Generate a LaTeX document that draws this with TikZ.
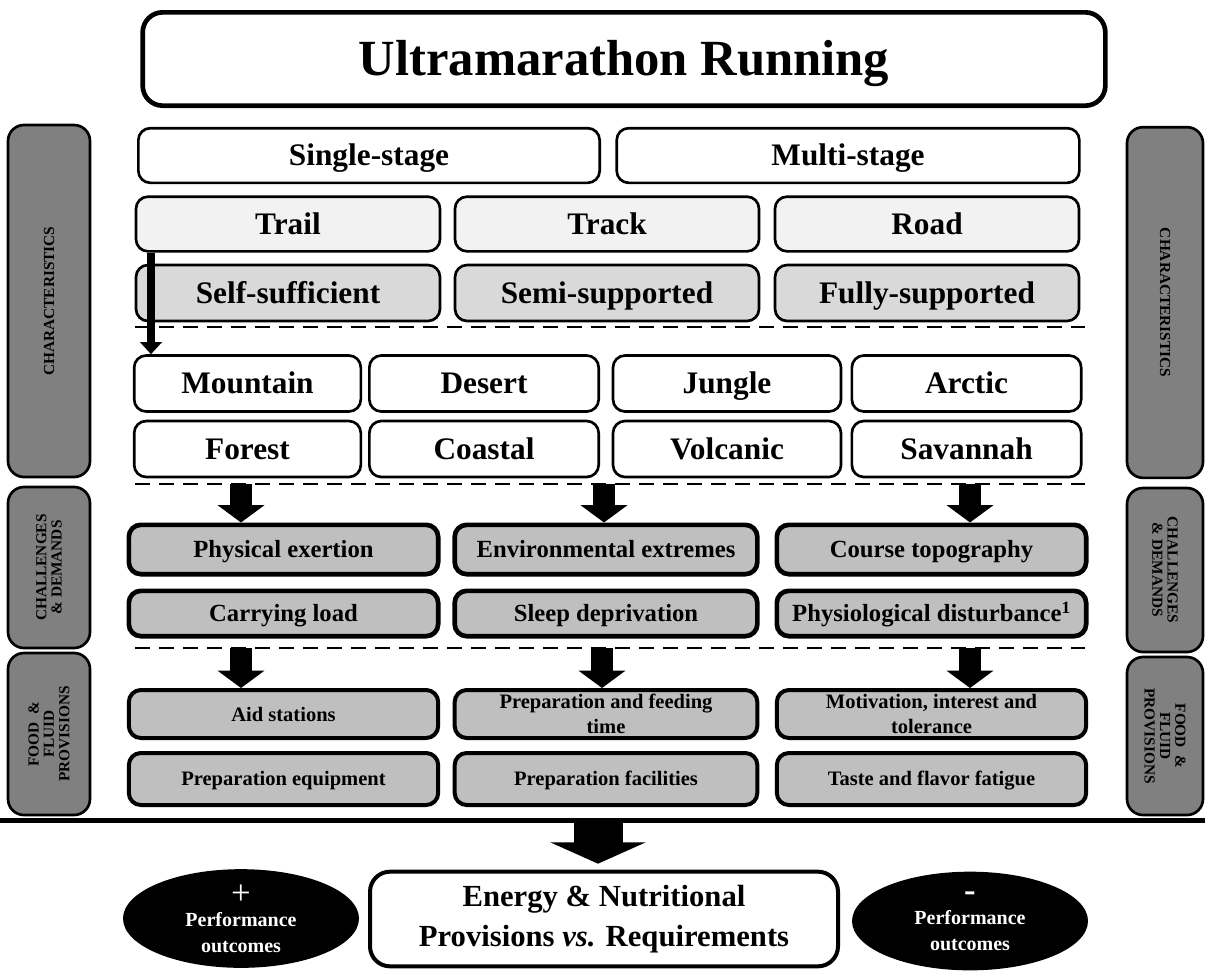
\documentclass[tikz,border=0pt]{standalone}
\usepackage{fontspec}
\setmainfont{Liberation Serif}
\usetikzlibrary{arrows.meta,shapes.geometric}
\definecolor{terraingray}{HTML}{F2F2F2}
\definecolor{supportgray}{HTML}{D9D9D9}
\definecolor{demandgray}{HTML}{BFBFBF}
\definecolor{sidegray}{HTML}{808080}
\tikzset{
  box/.style={draw,rounded corners=9pt,line width=2pt,inner sep=0pt,align=center,
    font=\bfseries\fontsize{23.5}{26}\selectfont},
  oneline/.style={text height=15.5pt,text depth=0pt},
  cbox/.style={box,fill=demandgray,line width=3.5pt,text height=12.2pt,text depth=0pt,
    font=\bfseries\fontsize{18.5}{21}\selectfont},
  fbox/.style={box,fill=demandgray,line width=3pt,font=\bfseries\fontsize{15.4}{19}\selectfont},
  side/.style={draw,fill=sidegray,rounded corners=12pt,line width=2pt,inner sep=0pt,align=center,
    font=\bfseries\fontsize{11.5}{11.5}\selectfont},
  perf/.style={ellipse,fill=black,text=white,inner sep=0pt,minimum width=177pt,minimum height=74pt,
    align=center,font=\bfseries\fontsize{15}{19.5}\selectfont},
  sep/.style={line width=1.5pt,dash pattern=on 11pt off 7pt},
  blockarrow/.style={line width=17pt,-{Triangle[width=34.5pt,length=13pt]}},
  trailarrow/.style={line width=6pt,-{Triangle[width=16pt,length=9pt]}},
  bigarrow/.style={line width=36.75pt,-{Triangle[width=71pt,length=16pt]},shorten >=4.5pt}
}
\begin{document}
\begin{tikzpicture}[x=0.75pt,y=-0.75pt]
\useasboundingbox (0,0) rectangle (1205,972);
% heading
\node[box,line width=3.5pt,rounded corners=15pt,minimum width=722pt,minimum height=70pt,
  text height=25pt,text depth=0pt,font=\bfseries\fontsize{38}{42}\selectfont] (ultra) at (624,59) {Ultramarathon Running};
\node[box,oneline,minimum width=346pt,minimum height=41pt] (single) at (369,155.5) {Single-stage};
\node[box,oneline,minimum width=347pt,minimum height=41pt] (multi) at (848,155.5) {Multi-stage};
% characteristics
\foreach \x/\nm/\txt in {288/trail/Trail,607/track/Track,927/road/Road}
  \node[box,oneline,fill=terraingray,minimum width=228pt,minimum height=41pt] (\nm) at (\x,224) {\txt};
\foreach \x/\nm/\txt in {288/selfsuff/Self-sufficient,607/semisupp/Semi-supported,927/fullsupp/Fully-supported}
  \node[box,oneline,fill=supportgray,minimum width=228pt,minimum height=42pt] (\nm) at (\x,293) {\txt};
\draw[sep] (135,327) -- (1085,327);
\foreach \x/\w/\nm/\txt in {247.5/170pt/mountain/Mountain,484/172pt/desert/Desert,727/171pt/jungle/Jungle,966.5/172pt/arctic/Arctic}
  \node[box,oneline,minimum width=\w,minimum height=42pt] (\nm) at (\x,383.5) {\txt};
\foreach \x/\w/\nm/\txt in {247.5/170pt/forest/Forest,484/172pt/coastal/Coastal,727/171pt/volcanic/Volcanic,966.5/172pt/savannah/Savannah}
  \node[box,oneline,minimum width=\w,minimum height=42pt] (\nm) at (\x,449) {\txt};
\coordinate (tx) at (151,0);
\draw[trailarrow] (trail.south -| tx) -- (mountain.north -| tx);
\draw[sep] (135,484) -- (1085,484);
% challenges & demands
\foreach \x/\w/\nm/\txt in {283.5/232pt/exertion/Physical exertion,606/227pt/extremes/Environmental extremes,931.5/232pt/topo/Course topography}
  \node[cbox,minimum width=\w,minimum height=37pt] (\nm) at (\x,549.5) {\txt};
\foreach \x/\w/\nm/\txt in {283.5/232pt/load/Carrying load,606/227pt/sleep/Sleep deprivation,931.5/232pt/physio/Physiological disturbance\textsuperscript{1}}
  \node[cbox,minimum width=\w,minimum height=34pt] (\nm) at (\x,613.5) {\txt};
\foreach \x/\nm in {241/exertion,604/extremes,970/topo}{
  \coordinate (ca) at (\x,484);
  \draw[blockarrow] (ca) -- (ca |- \nm.north);
}
\draw[sep] (135,648) -- (1085,648);
% food & fluid provisions
\foreach \x/\w/\nm/\txt in {283.5/232pt/aid/Aid stations,606/227pt/feeding/{Preparation and feeding\\time},931.5/232pt/motiv/{Motivation, interest and\\tolerance}}
  \node[fbox,minimum width=\w,minimum height=36pt] (\nm) at (\x,714) {\txt};
\foreach \x/\w/\nm/\txt in {283.5/232pt/equip/Preparation equipment,606/227pt/facil/Preparation facilities,931.5/232pt/taste/Taste and flavor fatigue}
  \node[fbox,text height=10.2pt,text depth=0pt,minimum width=\w,minimum height=39pt] (\nm) at (\x,779) {\txt};
\foreach \x/\nm in {241/aid,602/feeding,970/motiv}{
  \coordinate (fa) at (\x,648);
  \draw[blockarrow] (fa) -- (fa |- \nm.north);
}
% side labels
\node[side,rotate=90,minimum width=264pt,minimum height=61.5pt] (charL) at (49,301) {CHARACTERISTICS};
\node[side,rotate=90,minimum width=120.75pt,minimum height=61.5pt] (chalL) at (49,567.5) {CHALLENGES\\\& DEMANDS};
\node[side,rotate=90,minimum width=121.5pt,minimum height=61.5pt] (foodL) at (49,734) {FOOD \ \&\\FLUID\\PROVISIONS};
\node[side,rotate=-90,minimum width=263pt,minimum height=57pt] (charR) at (1165,302.5) {CHARACTERISTICS};
\node[side,rotate=-90,minimum width=123pt,minimum height=57pt] (chalR) at (1165,570) {CHALLENGES\\\& DEMANDS};
\node[side,rotate=-90,minimum width=118.5pt,minimum height=57pt] (foodR) at (1165,736) {FOOD \ \&\\FLUID\\PROVISIONS};
% outcome
\draw[line width=3.75pt] (0,820) -- (1205,820);
\node[box,line width=3pt,rounded corners=15pt,minimum width=351pt,minimum height=71pt,
  font=\bfseries\fontsize{23}{30}\selectfont] (energy) at (604,919) {Energy \& Nutritional\\Provisions \textit{vs.} Requirements};
\coordinate (bx) at (598,820);
\draw[bigarrow] (bx) -- (bx |- energy.north);
\node[perf] (perfplus) at (241,918.5) {{\mdseries\fontsize{26}{20}\selectfont +}\\[-3pt]Performance\\outcomes};
\node[perf] (perfminus) at (970,921) {{\fontsize{26}{20}\selectfont -}\\[-2pt]Performance\\outcomes};
\end{tikzpicture}
\end{document}
